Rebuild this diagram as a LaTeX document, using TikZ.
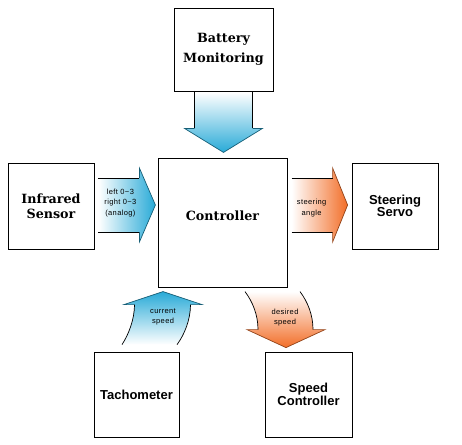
\documentclass[tikz,border=0pt]{standalone}
\usepackage{fontspec}
\setmainfont{DejaVu Serif}
\newfontfamily\arialfont{Liberation Sans}
\newfontfamily\tinyfont[LetterSpace=5]{Liberation Sans}
\definecolor{arrowblue}{RGB}{40,170,215}
\definecolor{arroworange}{RGB}{242,110,40}
\begin{document}
\begin{tikzpicture}[x=1pt, y=-1pt,
    block/.style ={draw, line width=0.8pt, inner sep=0pt, align=center},
    serifblock/.style ={block, font=\bfseries\fontsize{12.7}{15}\selectfont},
    sansblock/.style ={block, font=\arialfont\bfseries\fontsize{13}{12.5}\selectfont},
    note/.style ={align=center, inner sep=0pt, font=\tinyfont\fontsize{7.5}{10.5}\selectfont},
    edge/.style ={line width=0.7pt},
    blueedge/.style ={line width=0.7pt, draw=arrowblue!55!black},
    orangeedge/.style ={line width=0.7pt, draw=arroworange!60!black}]
   \useasboundingbox (0,0) rectangle (462,444);

   \node[serifblock, minimum width=99, minimum height=83] (BM) at (223.5,49.5) {Battery\\[5pt]Monitoring};
   \node[serifblock, minimum width=86, minimum height=86] (IR) at (51,206) {Infrared\\Sensor};
   \node[block, minimum size=129,
     label={[font=\bfseries\fontsize{12.7}{15}\selectfont, yshift=7pt]center:Controller}] (C) at (222.5,222.5) {};
   \node[sansblock, minimum width=86, minimum height=86] (SS) at (395,206) {Steering\\Servo};
   \node[sansblock, minimum width=85, minimum height=85] (T) at (136.5,394.5) {Tachometer};
   \node[sansblock, minimum width=87, minimum height=85] (SC) at (308.5,394.5) {Speed\\Controller};

   % battery -> controller
   \begin{scope}[shift={(BM.south)}]
     \shade[top color=white, bottom color=arrowblue] (-29,1) -- (-29,37) -- (-39,37) -- (0,61) -- (39,37) -- (29,37) -- (29,1) -- cycle;
     \draw[edge] (-29,1) -- (-29,37);
     \draw[edge] (29,1) -- (29,37);
     \draw[blueedge] (-29,37) -- (-39,37) -- (0,61) -- (39,37) -- (29,37);
   \end{scope}

   % infrared -> controller
   \begin{scope}[shift={(IR.east)}]
     \shade[left color=white, right color=arrowblue] (4,-28) -- (45,-28) -- (45,-38) -- (61,-1) -- (45,36) -- (45,26) -- (4,26) -- cycle;
     \draw[edge] (4,-28) -- (45,-28);
     \draw[edge] (4,26) -- (45,26);
     \draw[blueedge] (45,-28) -- (45,-38) -- (61,-1) -- (45,36) -- (45,26);
     \node[note] (irnote) at (26,-3) {left 0\textasciitilde3\\right 0\textasciitilde3\\(analog)};
   \end{scope}

   % controller -> steering servo
   \begin{scope}[shift={(SS.west)}]
     \shade[left color=white, right color=arroworange] (-60,-28) -- (-19,-28) -- (-19,-38) -- (-4,-1) -- (-19,36) -- (-19,26) -- (-60,26) -- cycle;
     \draw[edge] (-60,-28) -- (-19,-28);
     \draw[edge] (-60,26) -- (-19,26);
     \draw[orangeedge] (-19,-28) -- (-19,-38) -- (-4,-1) -- (-19,36) -- (-19,26);
     \node[note] (ssnote) at (-40,2) {steering\\angle};
   \end{scope}

   % tachometer -> controller
   \begin{scope}[shift={(T.north)}]
     \shade[top color=arrowblue, bottom color=white] (-14.5,-7) .. controls (-8,-17) and (-2,-32) .. (-2,-47) -- (-12.5,-47) -- (26.5,-60) -- (65.5,-47) -- (54,-47) .. controls (54,-32) and (48,-17) .. (40.5,-7) -- cycle;
     \draw[edge] (-14.5,-7) .. controls (-8,-17) and (-2,-32) .. (-2,-47);
     \draw[edge] (40.5,-7) .. controls (48,-17) and (54,-32) .. (54,-47);
     \draw[blueedge] (-2,-47) -- (-12.5,-47) -- (26.5,-60) -- (65.5,-47) -- (54,-47);
     \node[note] (tnote) at (26.5,-35) {current\\speed};
   \end{scope}

   % controller -> speed controller
   \begin{scope}[shift={(SC.north)}]
     \shade[top color=white, bottom color=arroworange] (-63.5,-60) .. controls (-56,-50) and (-50.5,-37) .. (-50.5,-22) -- (-61.5,-22) -- (-22.5,-4) -- (16.5,-22) -- (4.5,-22) .. controls (4.5,-37) and (-1,-50) .. (-8.5,-60) -- cycle;
     \draw[edge] (-63.5,-60) .. controls (-56,-50) and (-50.5,-37) .. (-50.5,-22);
     \draw[edge] (-8.5,-60) .. controls (-1,-50) and (4.5,-37) .. (4.5,-22);
     \draw[orangeedge] (-50.5,-22) -- (-61.5,-22) -- (-22.5,-4) -- (16.5,-22) -- (4.5,-22);
     \node[note] (scnote) at (-23.5,-34) {desired\\speed};
   \end{scope}
 \end{tikzpicture}
\end{document}
